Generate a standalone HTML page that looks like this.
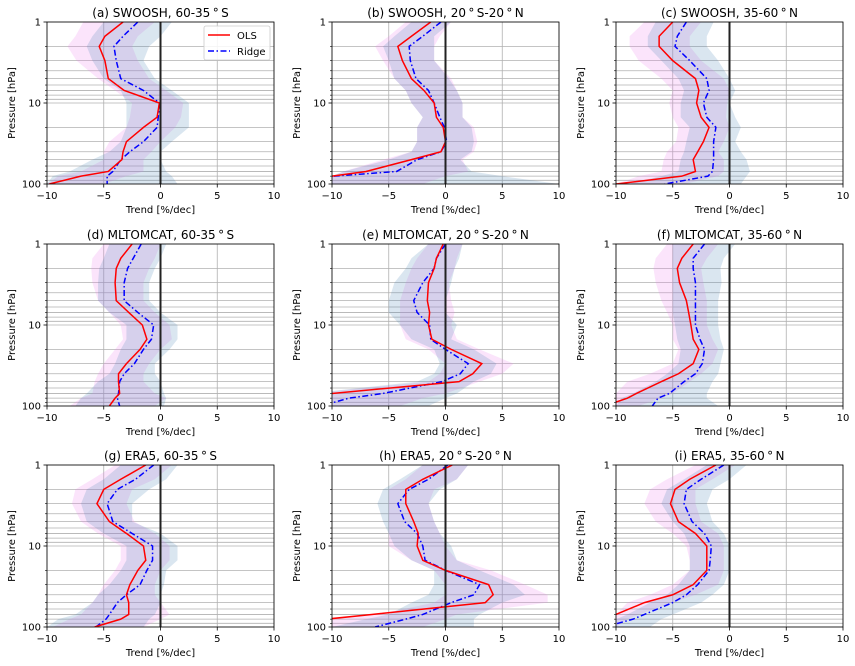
<!DOCTYPE html>
<html><head><meta charset="utf-8"><style>
html,body{margin:0;padding:0;background:#fff}
svg{display:block;font-family:"DejaVu Sans","Liberation Sans",sans-serif}
</style></head><body>
<svg id="fig" width="855" height="666" viewBox="0 0 855 666" xmlns="http://www.w3.org/2000/svg"></svg>
<script>
const levels = [1,1.5,2,3,5,7,10,15,20,30,40,50,70,80,100];
const xTicks = [-10,-5,0,5,10];
const yTicks = [1,10,100];
const yMinor = [2,3,4,5,6,7,8,9,20,30,40,50,60,70,80,90];
const titles = ["(a) SWOOSH, 60-35$S","(b) SWOOSH, 20$S-20$N","(c) SWOOSH, 35-60$N",
 "(d) MLTOMCAT, 60-35$S","(e) MLTOMCAT, 20$S-20$N","(f) MLTOMCAT, 35-60$N",
 "(g) ERA5, 60-35$S","(h) ERA5, 20$S-20$N","(i) ERA5, 35-60$N"];
// (a)
const olsA=[-3.3,-4.9,-5.4,-4.9,-4.6,-3.2,-0.1,-0.3,-1.5,-3,-3.3,-3.4,-4.6,-7,-9.8];
const ridgeA=[-2,-3.3,-4.1,-3.9,-3.5,-1.5,-0.1,-0.2,-0.3,-1.5,-2.7,-3.5,-4.2,-4.7,-4.7];
const olsLoA=[-6.8,-7.5,-8.2,-7.4,-5.5,-4,-2.5,-2.7,-3,-4.5,-5,-5,-7,-9,-10];
const olsHiA=[-0.5,-2,-2.5,-2,-1,0.5,2,1.8,1.3,0,-0.8,-1.5,-1.5,-3,-5];
const ridgeLoA=[-5,-6,-6.5,-6,-5,-3.5,-3,-3,-3,-3.5,-4.5,-6,-8,-9.5,-10];
const ridgeHiA=[1,0,-1,-1.5,-0.5,1,2.5,2.5,2.5,1,0,0,0.5,1,1.5];
// (b)
const olsB=[-1.3,-3,-4.2,-3.8,-3,-1.9,-1,-0.8,-0.2,0,-0.4,-3,-7,-10,-12];
const ridgeB=[-0.4,-2,-3.2,-3.1,-2.6,-1.5,-1,-0.5,-0.1,0.1,-0.4,-2.5,-4.3,-9.8,-12];
const olsLoB=[-3.5,-5,-6.2,-5.5,-4.5,-3.5,-3,-2,-2.5,-2.5,-3,-5.5,-9,-10,-10];
const olsHiB=[0.5,-0.5,-1,-1,0.5,1,1.5,1.5,2.5,2.8,2.5,1.5,2,0,-2];
const ridgeLoB=[-3,-4.5,-5.5,-5,-4.5,-3.5,-3,-2,-2.5,-2.5,-3,-5,-9,-10,-10];
const ridgeHiB=[0.5,-1,-1,-1,0.3,1,1.5,1.5,2.3,2.5,2.3,1.3,2.3,5,10];
// (c)
const olsC=[-5,-6.2,-6.2,-5,-3,-2.7,-2.9,-2.5,-1.8,-2.3,-2.8,-3.2,-3,-4.2,-10];
const ridgeC=[-3.8,-4.6,-4.8,-3.5,-2,-1.8,-2.3,-2,-1.2,-1.4,-1.4,-1.4,-1.5,-1.9,-5.7];
const olsLoC=[-7.5,-8.8,-8.8,-8,-6,-5,-5.3,-5,-4.5,-4.7,-5.5,-5.8,-6,-8,-10];
const olsHiC=[-2.5,-3.5,-3.5,-2.5,-0.5,0,-0.2,-0.3,0,-0.5,-1,-0.5,-0.5,-1,-4];
const ridgeLoC=[-6.5,-7.2,-7.2,-6,-4.5,-4,-4.3,-4.3,-3.5,-3.8,-4,-4.3,-4.5,-6,-9];
const ridgeHiC=[-1.4,-2,-2,-1,0,0.5,0,0.5,1,0.5,1,1.5,1.8,1.5,1];
// (d)
const olsD=[-2.5,-3.5,-3.9,-4,-3.9,-2.8,-1.6,-1.2,-1.8,-3,-3.7,-3.7,-3.6,-4,-4.5];
const ridgeD=[-1.7,-2.4,-2.9,-3.2,-3.2,-2,-0.6,-0.8,-1.5,-2.3,-3.2,-3.6,-3.7,-3.8,-3.6];
const olsLoD=[-5,-6,-6.1,-6,-5.5,-4.5,-3.5,-3.3,-4,-5,-5.5,-5.8,-6,-7,-8];
const olsHiD=[0,-0.5,-1,-1.5,-1.5,-0.5,0.8,1,0,-1,-1.5,-1.5,-0.5,0.5,-0.5];
const ridgeLoD=[-4.5,-5,-5.4,-5.5,-5.5,-4.5,-3,-3,-3.5,-4,-4.5,-5.5,-6.5,-7,-7.5];
const ridgeHiD=[0.5,0,-0.5,-1,-1,0,1.5,1.5,0.8,-0.5,-0.5,0,0.3,0.5,0.3];
// (e)
const olsE=[-0.2,-0.8,-1,-1.5,-1.6,-1.4,-1.5,-1.2,0.5,3.2,2.4,1.2,-10,-12,-13];
const ridgeE=[0,-0.8,-1,-2,-2.8,-2.5,-1.4,-1.3,0,2,1.3,-0.3,-5.5,-8.5,-11];
const olsLoE=[-1.5,-2.5,-3,-3.5,-4,-4,-4,-3.5,-1.5,0,-0.5,-1.5,-12,-12,-12];
const olsHiE=[1.5,1,0.8,0.3,0.5,0.8,0.5,1,3,6,5,3,0,-2,-4];
const ridgeLoE=[-1.5,-3,-3.5,-4.5,-5,-5,-4,-3,-1,-0.5,-1,-2.5,-12,-12,-12];
const ridgeHiE=[1.5,1.2,0.8,0.5,0,0,1,0.5,2.5,4.5,4,2.5,1,0,-1.5];
// (f)
const olsF=[-3.2,-4.2,-4.6,-4.4,-3.8,-3.6,-3.4,-3.2,-2.7,-3.2,-4.5,-6,-8.2,-9,-11];
const ridgeF=[-2.2,-3.2,-3.2,-3,-3,-3,-3,-2.6,-2.2,-2.4,-3,-4,-5.3,-6.3,-6.8];
const olsLoF=[-5.5,-6.5,-6.7,-6.5,-6,-5.5,-5,-5,-4.5,-5,-7,-9,-10,-10,-10];
const olsHiF=[-1,-2,-2.5,-2.3,-2,-2,-2,-1.5,-1,-1.5,-2.5,-3.5,-5,-6,-8];
const ridgeLoF=[-5,-5,-5,-5,-5,-5,-4.8,-4.6,-4.3,-4.5,-5.5,-6.5,-8.5,-9.5,-10];
const ridgeHiF=[0.5,-0.5,-0.8,-0.7,-1,-1,-1,-0.8,-0.5,-0.8,-1,-1.5,-2,-2,-1];
// (g)
const olsG=[-1.3,-3.5,-5,-5.6,-4.5,-3,-1.5,-1.3,-2,-2.7,-3,-2.8,-2.8,-3.5,-5.8];
const ridgeG=[-0.6,-2.2,-3.8,-4.7,-4.2,-2.5,-0.7,-0.7,-1.2,-1.8,-3,-3.8,-4.5,-4.8,-5.7];
const olsLoG=[-4,-6,-7.5,-7.8,-7,-5.5,-3.5,-3.5,-4,-5,-5.5,-6,-7,-8,-9.5];
const olsHiG=[1,-0.5,-2.5,-3,-2.3,-0.5,0.8,0.8,0,-0.5,-0.5,0,0.8,0,-1.5];
const ridgeLoG=[-3.5,-5,-6.5,-7,-6.5,-5,-3,-3,-3.5,-4.5,-5.5,-6,-7.5,-9,-10];
const ridgeHiG=[1.5,0.5,-1,-2.5,-2.5,0,1.5,1.5,0.5,0.3,0,0,-0.5,-1,-1.5];
// (h)
const olsH=[0.6,-2,-3.5,-3.5,-2.8,-2.4,-2.5,-2,0,3.8,4.2,3.5,-6.5,-10.5,-13];
const ridgeH=[0.2,-1.5,-3.2,-4.2,-3.6,-2.5,-2,-1.8,0,3,2.5,0.5,-2,-3.5,-6.2];
const olsLoH=[-2,-3.5,-5,-5,-5,-5,-5,-3,-1,0,0,-1,-6,-10,-12];
const olsHiH=[2,1,-1,-1.5,-1,-0.5,0,1,4,7,9,9,1,0,-2];
const ridgeLoH=[-2,-4,-5.5,-6,-5.5,-5,-4.5,-3,-1,-1,-1.5,-3,-5,-7,-10];
const ridgeHiH=[2,1,-0.5,-1.5,-1,-0.5,0.5,1,3,6,7,5,3,2.5,2.5];
// (i)
const olsI=[-1.2,-3.5,-4.8,-5.2,-4.5,-3,-2,-2,-2,-3.2,-5,-7.5,-10,-12,-14];
const ridgeI=[-0.5,-2.5,-3.8,-4,-3.3,-2.2,-1.6,-1.7,-1.8,-2.8,-3.8,-5,-7.5,-8.5,-11];
const olsLoI=[-3,-5.5,-7,-7.5,-6.5,-5,-3.8,-3.5,-3.5,-5,-7,-9,-10,-10,-10];
const olsHiI=[0.5,-1.5,-3,-3,-2.5,-1,-0.5,-0.5,-0.5,-1,-3,-5,-8,-9,-10];
const ridgeLoI=[-2,-4,-5.5,-6,-5,-4,-3.5,-3.5,-3.5,-4.5,-5.5,-7,-9,-10,-10];
const ridgeHiI=[1.5,0,-1.5,-2,-1.5,-0.5,0,0,0,-0.5,-1.5,-2.5,-5,-6,-7];

const panels=[
 [olsA,ridgeA,olsLoA,olsHiA,ridgeLoA,ridgeHiA],[olsB,ridgeB,olsLoB,olsHiB,ridgeLoB,ridgeHiB],[olsC,ridgeC,olsLoC,olsHiC,ridgeLoC,ridgeHiC],
 [olsD,ridgeD,olsLoD,olsHiD,ridgeLoD,ridgeHiD],[olsE,ridgeE,olsLoE,olsHiE,ridgeLoE,ridgeHiE],[olsF,ridgeF,olsLoF,olsHiF,ridgeLoF,ridgeHiF],
 [olsG,ridgeG,olsLoG,olsHiG,ridgeLoG,ridgeHiG],[olsH,ridgeH,olsLoH,olsHiH,ridgeLoH,ridgeHiH],[olsI,ridgeI,olsLoI,olsHiI,ridgeLoI,ridgeHiI]];

const NS="http://www.w3.org/2000/svg";
const svg=document.getElementById('fig');
const colX=[47,332,616], rowY=[22,244,465], PW=227, PH=162;
function mk(tag,attrs,parent){const e=document.createElementNS(NS,tag);for(const k in attrs)e.setAttribute(k,attrs[k]);(parent||svg).appendChild(e);return e;}
const defs=mk('defs',{});

panels.forEach((p,i)=>{
  const x0=colX[i%3], y0=rowY[Math.floor(i/3)];
  const sx=v=>x0+(v+10)/20*PW;
  const sy=pr=>y0+Math.log10(pr)/2*PH;
  const g=mk('g',{});
  
  
  const cp=mk('clipPath',{id:'cp'+i},defs);
  mk('rect',{x:x0,y:y0,width:PW,height:PH},cp);
  // grid
  const grid=mk('g',{stroke:'#b0b0b0','stroke-width':0.8},g);
  
  
  xTicks.forEach(t=>mk('line',{x1:sx(t),x2:sx(t),y1:y0,y2:y0+PH},grid));
  yTicks.concat(yMinor).forEach(t=>mk('line',{x1:x0,x2:x0+PW,y1:sy(t),y2:sy(t)},grid));
  // bands
  const clip=mk('g',{'clip-path':'url(#cp'+i+')'},g);
  function band(lo,hi,fill,name){
    let d='M'+levels.map((l,k)=>sx(lo[k])+','+sy(l)).join('L');
    d+='L'+levels.slice().reverse().map((l,k)=>{const j=levels.length-1-k;return sx(hi[j])+','+sy(l);}).join('L')+'Z';
    const e=mk('path',{d:d,fill:fill},clip);
    
    
  }
  band(p[2],p[3],'rgba(238,130,238,0.22)','ols-uncertainty-band');
  band(p[4],p[5],'rgba(70,130,180,0.2)','ridge-uncertainty-band');
  // zero line
  const z=mk('line',{x1:sx(0),x2:sx(0),y1:y0,y2:y0+PH,stroke:'#222','stroke-width':2},g);
  
  
  function line(vals,col,dash,name){
    const e=mk('polyline',{points:levels.map((l,k)=>sx(vals[k])+','+sy(l)).join(' '),fill:'none',stroke:col,'stroke-width':1.5},clip);
    if(dash)e.setAttribute('stroke-dasharray',dash);
    
    
  }
  line(p[1],'#0000ff','6,2.5,1.5,2.5','ridge-line');
  line(p[0],'#ff0000',null,'ols-line');
  // frame
  const fr=mk('rect',{x:x0,y:y0,width:PW,height:PH,fill:'none',stroke:'#000','stroke-width':0.8},g);
  
  
  // ticks
  xTicks.forEach(t=>{
    mk('line',{x1:sx(t),x2:sx(t),y1:y0+PH,y2:y0+PH+3.5,stroke:'#000','stroke-width':0.8},g);
    const tx=mk('text',{x:sx(t),y:y0+PH+15,'font-size':10,'text-anchor':'middle',fill:'#000'},g);
    tx.textContent=(t<0?'\u2212'+(-t):t);
    
    
  });
  yTicks.forEach(t=>{
    mk('line',{x1:x0-3.5,x2:x0,y1:sy(t),y2:sy(t),stroke:'#000','stroke-width':0.8},g);
    const tx=mk('text',{x:x0-6,y:sy(t)+3.5,'font-size':10,'text-anchor':'end',fill:'#000'},g);
    tx.textContent=t;
    
    
  });
  yMinor.forEach(t=>mk('line',{x1:x0-2,x2:x0,y1:sy(t),y2:sy(t),stroke:'#000','stroke-width':0.6},g));
  const xl=mk('text',{x:x0+PW/2,y:y0+PH+29,'font-size':10,'text-anchor':'middle',fill:'#000'},g);
  xl.textContent='Trend [%/dec]';
  
  
  const yl=mk('text',{x:0,y:0,'font-size':10,'text-anchor':'middle',fill:'#000',transform:'translate('+(x0-32)+','+(y0+PH/2)+') rotate(-90)'},g);
  yl.textContent='Pressure [hPa]';
  
  
  const ti=mk('text',{x:x0+PW/2,y:y0-5,'font-size':12,'text-anchor':'middle',fill:'#000'},g);
  ti.textContent=titles[i].replace(/\$/g,'\u2009\u00b0\u2009');
  
  
});
// legend
const lg=mk('g',{});


mk('rect',{x:204,y:26,width:66,height:34,rx:2,fill:'rgba(255,255,255,0.85)',stroke:'#ccc','stroke-width':0.8},lg);
mk('line',{x1:208,x2:230,y1:35,y2:35,stroke:'#ff0000','stroke-width':1.5},lg);
mk('line',{x1:208,x2:230,y1:51,y2:51,stroke:'#0000ff','stroke-width':1.5,'stroke-dasharray':'6,2.5,1.5,2.5'},lg);
const l1=mk('text',{x:237,y:39,'font-size':10},lg);l1.textContent='OLS';


const l2=mk('text',{x:237,y:55,'font-size':10},lg);l2.textContent='Ridge';


</script>
</body></html>
